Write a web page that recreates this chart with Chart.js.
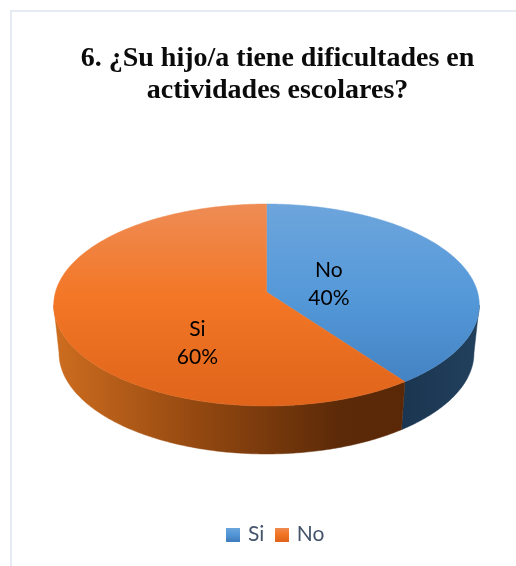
<!DOCTYPE html>
<html>
<head>
<meta charset="utf-8">
<style>
html,body{margin:0;padding:0;background:#fff;overflow:hidden}
canvas{position:absolute;left:0;top:0}
</style>
<script src="https://cdn.jsdelivr.net/npm/chart.js@4"></script>
</head>
<body>
<canvas id="c" width="516" height="566" style="width:516px;height:566px"></canvas>
<script>
const titleLines = ['6. ¿Su hijo/a tiene dificultades en', 'actividades escolares?'];
const legendNames = ['Si', 'No'];
const sliceNames = ['No', 'Si'];
const sliceValues = [40, 60];

const LABEL_FONT = '21px Lato';
const topStops = [
  [[0, '#6DA5DC'], [0.45, '#5599D9'], [1, '#3F7DBE']],
  [[0, '#EE8C55'], [0.45, '#F37726'], [1, '#E0641A']]
];
const wallStops = [
  [[0, '#1A3550'], [1, '#22405C']],
  [[0, '#CC6C1F'], [0.4, '#934810'], [0.8, '#5C2A08'], [1, '#5A2807']]
];
const view = {cx: 266.5, apexY: 292, a: 211, b: 99.3, k: 0.1287, depth: 48, wallScale: 0.975, top: 204, bottom: 406, left: 54, right: 479};
const labelShift = [{x: -3, y: 2}, {x: -2, y: 40.5}];
const legendNudge = -1;

function project(theta, r) {
  const u = Math.cos(theta) * r, v = Math.sin(theta) * r;
  const w = 1 - view.k * v;
  return {x: view.cx + view.a * u / w, y: view.apexY + view.b * v / w};
}
function lower(p) {
  return {x: view.cx + (p.x - view.cx) * view.wallScale, y: p.y + view.depth};
}
function gradient(ctx, x0, y0, x1, y1, stops) {
  const g = ctx.createLinearGradient(x0, y0, x1, y1);
  stops.forEach(s => g.addColorStop(s[0], s[1]));
  return g;
}
function rimPoints(a0, a1) {
  const n = Math.max(2, Math.ceil((a1 - a0) / 0.01));
  const pts = [];
  for (let i = 0; i <= n; i++) pts.push(project(a0 + (a1 - a0) * i / n, 1));
  return pts;
}
function legendSwatch(stops) {
  const cv = document.createElement('canvas');
  cv.width = 14; cv.height = 14;
  const x = cv.getContext('2d');
  x.fillStyle = gradient(x, 0, 0, 0, 14, stops);
  x.fillRect(0, 0, 14, 14);
  return cv;
}

const pie3d = {
  id: 'pie3d',
  afterLayout(chart) {
    chart.legend.left += legendNudge;
    chart.legend.right += legendNudge;
  },
  beforeDraw(chart) {
    const ctx = chart.ctx;
    ctx.save();
    ctx.fillStyle = '#fff';
    ctx.fillRect(0, 0, chart.width, chart.height);
    ctx.fillStyle = '#E6EAF2';
    ctx.fillRect(10, 10, chart.width - 10, 2);
    ctx.fillRect(10, 10, 2, chart.height - 10);
    ctx.restore();
  },
  beforeDatasetsDraw(chart) {
    const ctx = chart.ctx;
    const arcs = chart.getDatasetMeta(0).data;
    const frontFrom = Math.asin(view.k), frontTo = Math.PI - frontFrom;
    ctx.save();
    arcs.forEach((arc, i) => {
      const a0 = Math.max(arc.startAngle, frontFrom), a1 = Math.min(arc.endAngle, frontTo);
      if (a1 <= a0) return;
      const pts = rimPoints(a0, a1);
      ctx.beginPath();
      pts.forEach((p, j) => j ? ctx.lineTo(p.x, p.y) : ctx.moveTo(p.x, p.y));
      pts.slice().reverse().forEach(p => { const q = lower(p); ctx.lineTo(q.x, q.y); });
      ctx.closePath();
      const x0 = i === 0 ? 400 : view.left + 4;
      const x1 = i === 0 ? view.right : 410;
      const fill = gradient(ctx, x0, 0, x1, 0, wallStops[i]);
      ctx.fillStyle = fill;
      ctx.strokeStyle = fill;
      ctx.lineWidth = 0.5;
      ctx.fill();
      ctx.stroke();
    });
    arcs.forEach((arc, i) => {
      const pts = rimPoints(arc.startAngle, arc.endAngle);
      ctx.beginPath();
      ctx.moveTo(view.cx, view.apexY);
      pts.forEach(p => ctx.lineTo(p.x, p.y));
      ctx.closePath();
      const fill = gradient(ctx, 0, view.top, 0, view.bottom, topStops[i]);
      ctx.fillStyle = fill;
      ctx.strokeStyle = fill;
      ctx.lineWidth = 0.5;
      ctx.fill();
      ctx.stroke();
    });
    ctx.font = LABEL_FONT;
    ctx.fillStyle = '#000';
    ctx.textAlign = 'center';
    ctx.textBaseline = 'middle';
    const total = sliceValues.reduce((s, v) => s + v, 0);
    arcs.forEach((arc, i) => {
      const c = project((arc.startAngle + arc.endAngle) / 2, 0.33);
      const x = c.x + labelShift[i].x, y = c.y + labelShift[i].y;
      ctx.fillText(sliceNames[i], x, y - 14);
      ctx.fillText(Math.round(sliceValues[i] / total * 100) + '%', x, y + 14.5);
    });
    ctx.restore();
    return false;
  }
};

new Chart(document.getElementById('c'), {
  type: 'pie',
  data: {
    labels: legendNames,
    datasets: [{data: sliceValues, backgroundColor: ['#5599D9', '#F37726'], borderWidth: 0}]
  },
  plugins: [pie3d],
  options: {
    responsive: false,
    animation: false,
    layout: {padding: {left: 39, top: 33, bottom: 11}},
    plugins: {
      tooltip: {enabled: false},
      title: {
        display: true,
        text: titleLines,
        color: '#0b0b0b',
        font: {family: '"Liberation Serif"', size: 28, weight: 'bold', lineHeight: 1.13},
        padding: {top: 10, bottom: 10}
      },
      legend: {
        display: true,
        position: 'bottom',
        labels: {
          color: '#44546A',
          font: {family: 'Lato', size: 21},
          usePointStyle: true,
          pointStyleWidth: 9,
          padding: 13,
          generateLabels(chart) {
            return legendNames.map((name, i) => ({
              text: name,
              fontColor: '#44546A',
              pointStyle: legendSwatch(topStops[i]),
              fillStyle: topStops[i][1][1],
              strokeStyle: 'transparent',
              lineWidth: 0,
              hidden: false,
              index: i
            }));
          }
        }
      }
    }
  }
});
</script>
</body>
</html>
